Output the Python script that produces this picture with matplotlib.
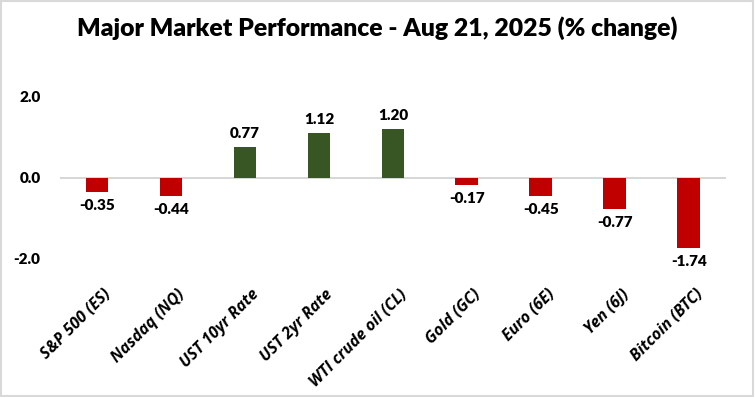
import numpy as np
import matplotlib
matplotlib.use("Agg")
import matplotlib.pyplot as plt
import matplotlib.transforms as mtransforms
from matplotlib.patches import Rectangle

plt.rcParams['font.family'] = ['Lato', 'DejaVu Sans']

# Data
categories = ['S&P 500 (ES)', 'Nasdaq (NQ)', 'UST 10yr Rate', 'UST 2yr Rate',
              'WTI crude oil (CL)', 'Gold (GC)', 'Euro (6E)', 'Yen (6J)', 'Bitcoin (BTC)']
changes = [-0.35, -0.44, 0.77, 1.12, 1.20, -0.17, -0.45, -0.77, -1.74]
y_ticks = [-2.0, 0.0, 2.0]

green = '#375623'
red = '#C00000'

fig = plt.figure(figsize=(7.55, 3.97), dpi=100)
ax = fig.add_axes([0.0795, 0.2864, 0.882, 0.5305])

x = np.arange(len(categories))
colors = [green if v >= 0 else red for v in changes]
ax.bar(x, changes, width=0.31, color=colors, zorder=2)

for xi, v in zip(x, changes):
    if v >= 0:
        ax.annotate(f'{v:.2f}', (xi, v), xytext=(0, 5), textcoords='offset points',
                    ha='center', va='bottom', fontsize=11, fontweight='heavy')
    else:
        ax.annotate(f'{v:.2f}', (xi, v), xytext=(0, -5), textcoords='offset points',
                    ha='center', va='top', fontsize=11, fontweight='heavy')

ax.set_xlim(-0.5, len(categories) - 0.5)
ax.set_ylim(-2.6, 2.6)
ax.set_yticks(y_ticks)
ax.set_yticklabels([f'{t:.1f}' for t in y_ticks], fontsize=11, fontweight='heavy')
ax.axhline(0, color='#D0D0D0', linewidth=1.2, zorder=1)
ax.set_xticks([])
ax.tick_params(axis='both', length=0)
ax.tick_params(axis='y', pad=14)

# category labels, rotated, below the plot area
trans = mtransforms.blended_transform_factory(ax.transData, ax.transAxes)
for xi, name in zip(x, categories):
    ax.text(xi + 0.08, -0.015, name, transform=trans, rotation=45,
            ha='right', va='top', rotation_mode='anchor',
            fontsize=11.5, fontweight='bold', fontstyle='italic',
            family=['Open Sans', 'DejaVu Sans'])

for s in ax.spines.values():
    s.set_visible(False)

fig.text(0.5, 0.929, 'Major Market Performance - Aug 21, 2025 (% change)',
         ha='center', va='center', fontsize=17.8, fontweight='heavy')

fig.patches.append(Rectangle((0.001, 0.002), 0.997, 0.995, transform=fig.transFigure,
                             fill=False, edgecolor='#D9D9D9', linewidth=1.5))

fig.savefig('out.png', dpi=100)
